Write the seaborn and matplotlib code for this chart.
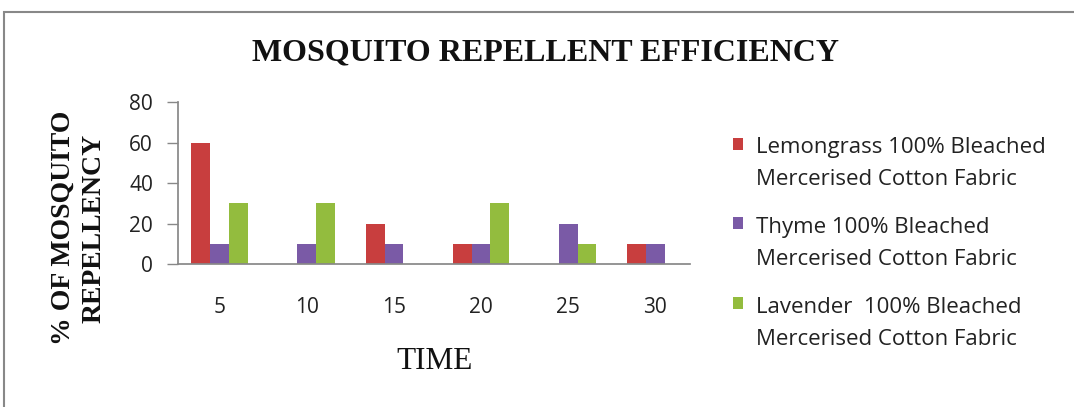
import matplotlib
matplotlib.use("Agg")
import matplotlib.pyplot as plt
import seaborn as sns
import pandas as pd
from matplotlib.patches import Rectangle

times = ["5", "10", "15", "20", "25", "30"]
series_names = [
    "Lemongrass 100% Bleached\nMercerised Cotton Fabric",
    "Thyme 100% Bleached\nMercerised Cotton Fabric",
    "Lavender  100% Bleached\nMercerised Cotton Fabric",
]
lemongrass = [60, 0, 20, 10, 0, 10]
thyme = [10, 10, 10, 10, 20, 10]
lavender = [30, 30, 0, 30, 10, 0]
colors = ["#C83E3E", "#7A5AA6", "#93BC3E"]

rows = []
for name, vals in zip(series_names, [lemongrass, thyme, lavender]):
    for t, v in zip(times, vals):
        rows.append({"time": t, "value": v, "series": name})
df = pd.DataFrame(rows)

sns.set_theme(style="white")
fig = plt.figure(figsize=(10.74, 4.07), dpi=100)
ax = fig.add_axes([0.1657, 0.3514, 0.4768, 0.3976])

sns.barplot(data=df, x="time", y="value", hue="series", order=times,
            hue_order=series_names, palette=colors, width=0.65,
            saturation=1, edgecolor="none", ax=ax)

ax.set_ylim(0, 80)
ax.set_yticks([0, 20, 40, 60, 80])
ax.set_xlim(-0.48, 5.4)
tick_font = "Open Sans"
for lab in ax.get_yticklabels() + ax.get_xticklabels():
    lab.set_fontfamily(tick_font)
    lab.set_fontsize(15)
    lab.set_color("#222222")
ax.tick_params(axis="y", which="major", length=8, width=1, color="#888888",
               left=True, pad=10)
ax.tick_params(axis="x", length=0, pad=24)
for s in ["top", "right"]:
    ax.spines[s].set_visible(False)
ax.spines["left"].set_color("#888888")
ax.spines["bottom"].set_color("#888888")
ax.grid(False)

ax.set_xlabel("TIME", fontfamily="Liberation Serif", fontsize=22.5,
              color="#111111")
ax.xaxis.set_label_coords(0.502, -0.513)
ax.set_ylabel("")

fig.text(0.0735, 0.4398, "% OF MOSQUITO\nREPELLENCY",
         fontfamily="Liberation Serif", fontweight="bold", fontsize=20,
         rotation=90, ha="center", va="center", multialignment="center",
         linespacing=1.3, color="#111111")

fig.text(0.508, 0.870, "MOSQUITO REPELLENT EFFICIENCY",
         fontfamily="Liberation Serif", fontweight="bold", fontsize=23,
         ha="center", va="center", color="#111111")

leg_fs = 16
leg = ax.legend(loc="upper left", bbox_to_anchor=(0.6825, 0.663),
                bbox_transform=fig.transFigure, frameon=False,
                prop={"family": tick_font, "size": leg_fs},
                handlelength=0.45, handleheight=0.45, handletextpad=0.58,
                labelspacing=1.2, borderaxespad=0, borderpad=0)
for t in leg.get_texts():
    t.set_color("#222222")
    t.set_linespacing(1.7)
for h in leg.legend_handles:
    h.set_y(h.get_y() + 14.6)

border = Rectangle((0.004, -0.01), 1.0, 0.98, transform=fig.transFigure,
                   fill=False, edgecolor="#888888", linewidth=1.5)
fig.patches.append(border)

fig.savefig("out.png", dpi=100)
